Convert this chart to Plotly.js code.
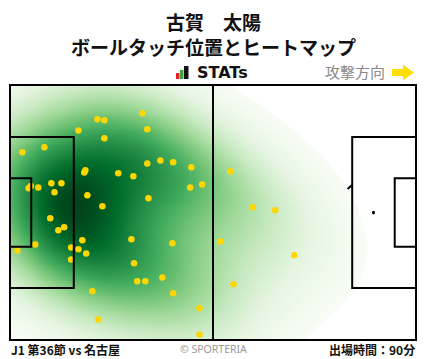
<!DOCTYPE html>
<html>
<head>
<meta charset="utf-8">
<script src="https://cdn.plot.ly/plotly-3.0.1.min.js"></script>
<style>html,body{margin:0;padding:0;background:#fff;}#chart{width:428px;height:359px;}</style>
</head>
<body>
<div id="chart"></div>
<script>
// ---- data (pitch metres: x 0-105 towards attack, y 0-68 bottom to top) ----
const playerName = '古賀　太陽';
const chartTitle = 'ボールタッチ位置とヒートマップ';
const matchLabel = 'J1 第36節 vs 名古屋';
const minutesLabel = '出場時間：90分';
const touchX = [34.2,22.6,24.4,17.7,35.5,24.4,8.9,3.2,35.5,38.9,42.2,46.9,19.5,19.2,28.0,31.9,46.6,49.7,5.4,4.8,7.3,10.7,13.3,11.5,20.0,35.8,23.9,10.4,12.5,14.0,18.7,6.5,1.9,15.8,17.7,19.7,15.8,31.4,42.0,32.1,39.4,32.9,35.0,42.2,21.3,49.0,22.8,49.0,57.0,62.7,68.6,54.4,73.5,57.8];
const touchY = [60.5,58.9,58.6,55.9,56.2,53.8,51.4,50.1,47.1,47.9,47.4,46.1,45.3,44.7,44.5,43.7,40.7,41.5,41.1,40.5,40.7,41.8,41.8,39.4,38.6,37.8,35.7,32.5,29.3,30.1,26.6,25.5,23.9,24.7,24.2,23.1,21.5,26.9,25.8,20.5,16.7,15.7,15.7,12.5,13.0,8.5,5.5,1.5,45.0,35.4,34.6,26.3,22.6,14.9];

// ---- Gaussian KDE computed from the touch points ----
const bwAdjust = 1.4, threshold = 0.02;
const n = touchX.length;
const mx = touchX.reduce((a,b)=>a+b,0)/n, my = touchY.reduce((a,b)=>a+b,0)/n;
let sxx=0, syy=0, sxy=0;
for (let i=0;i<n;i++){const dx=touchX[i]-mx, dy=touchY[i]-my; sxx+=dx*dx; syy+=dy*dy; sxy+=dx*dy;}
sxx/=(n-1); syy/=(n-1); sxy/=(n-1);
const f2 = (Math.pow(n, -1/6)*bwAdjust)**2;
const cxx=sxx*f2, cyy=syy*f2, cxy=sxy*f2;
const det = cxx*cyy-cxy*cxy;
const ixx=cyy/det, iyy=cxx/det, ixy=-cxy/det;
function dens(x,y){let s=0;for(let i=0;i<n;i++){const dx=x-touchX[i],dy=y-touchY[i];s+=Math.exp(-0.5*(ixx*dx*dx+2*ixy*dx*dy+iyy*dy*dy));}return s;}
const bwx=Math.sqrt(cxx), bwy=Math.sqrt(cyy);
const minX=Math.min(...touchX)-3*bwx, maxX=Math.max(...touchX)+3*bwx;
const minY=Math.min(...touchY)-3*bwy, maxY=Math.max(...touchY)+3*bwy;
const vals=[];
for(let i=0;i<200;i++){for(let j=0;j<200;j++){vals.push(dens(minX+(maxX-minX)*i/199, minY+(maxY-minY)*j/199));}}
vals.sort((a,b)=>b-a);
const total=vals.reduce((a,b)=>a+b,0);
let cum=0, level=vals[vals.length-1];
for(let k=0;k<vals.length;k++){cum+=vals[k]; if(cum/total>=1-threshold){level=vals[k];break;}}
const dmax=vals[0];
const step=0.25, gx=[], gy=[], gz=[];
for(let x=0;x<=105+1e-9;x+=step) gx.push(+x.toFixed(3));
for(let y=0;y<=68+1e-9;y+=step) gy.push(+y.toFixed(3));
for(const y of gy){const row=[];for(const x of gx){const d=dens(x,y);row.push(d>=level?d:null);}gz.push(row);}

const greens=[[0,'#f7fcf5'],[0.125,'#e5f5e0'],[0.25,'#c7e9c0'],[0.375,'#a1d99b'],[0.5,'#74c476'],[0.625,'#41ab5d'],[0.75,'#238b45'],[0.875,'#006d2c'],[1,'#00441b']];

// ---- pixel helpers for paper-referenced decorations ----
const L=10,R=416,T=85,B=340;
const px=p=>(p-L)/(R-L), py=p=>(B-p)/(B-T);

const line={color:'#000',width:2};
const shapes=[
  {type:'circle',xref:'x',yref:'y',x0:52.5-9.15,x1:52.5+9.15,y0:34-9.15,y1:34+9.15,line:line,layer:'below'},
  {type:'path',xref:'x',yref:'y',path:(()=>{const a=Math.acos(5.5/9.15);let s='';for(let k=0;k<=20;k++){const t=-a+2*a*k/20;s+=(k?'L':'M')+(11+9.15*Math.cos(t))+','+(34+9.15*Math.sin(t));}return s;})(),line:line,layer:'below'},
  {type:'path',xref:'x',yref:'y',path:(()=>{const a=Math.acos(5.5/9.15);let s='';for(let k=0;k<=20;k++){const t=Math.PI-a+2*a*k/20;s+=(k?'L':'M')+(94+9.15*Math.cos(t))+','+(34+9.15*Math.sin(t));}return s;})(),line:line,layer:'below'},
  {type:'circle',xref:'x',yref:'y',x0:10.8,x1:11.2,y0:33.7,y1:34.3,fillcolor:'#000',line:{width:0},layer:'below'},
  {type:'line',xref:'x',yref:'y',x0:52.5,x1:52.5,y0:0,y1:68,line:line,layer:'above'},
  {type:'rect',xref:'x',yref:'y',x0:0,x1:16.5,y0:13.84,y1:54.16,line:line,layer:'above'},
  {type:'rect',xref:'x',yref:'y',x0:0,x1:5.5,y0:24.84,y1:43.16,line:line,layer:'above'},
  {type:'rect',xref:'x',yref:'y',x0:88.5,x1:105,y0:13.84,y1:54.16,line:line,layer:'above'},
  {type:'rect',xref:'x',yref:'y',x0:99.5,x1:105,y0:24.84,y1:43.16,line:line,layer:'above'},
  {type:'circle',xref:'x',yref:'y',x0:93.6,x1:94.4,y0:33.5,y1:34.5,fillcolor:'#000',line:{width:0},layer:'above'},
  {type:'rect',xref:'paper',yref:'paper',x0:0,x1:1,y0:0,y1:1,line:line,layer:'above'},
  {type:'rect',xref:'paper',yref:'paper',x0:px(176),x1:px(179.5),y0:py(79),y1:py(73),fillcolor:'#e0262b',line:{width:0}},
  {type:'rect',xref:'paper',yref:'paper',x0:px(180),x1:px(183.5),y0:py(79),y1:py(70),fillcolor:'#3aa63a',line:{width:0}},
  {type:'rect',xref:'paper',yref:'paper',x0:px(184),x1:px(188.5),y0:py(79),y1:py(66),fillcolor:'#111',line:{width:0}},
  {type:'path',xref:'paper',yref:'paper',
   path:`M${px(392)},${py(69)} L${px(403)},${py(69)} L${px(403)},${py(64.5)} L${px(414)},${py(72.5)} L${px(403)},${py(80.5)} L${px(403)},${py(76)} L${px(392)},${py(76)} Z`,
   fillcolor:'#ffe000',line:{width:0}}
];

const cjk='"Noto Sans CJK JP", "Noto Sans", sans-serif';
const annotations=[
  {text:'<b>'+playerName+'</b>',xref:'paper',yref:'paper',x:0.5,y:py(21.5),xanchor:'center',yanchor:'middle',showarrow:false,font:{family:cjk,size:19,color:'#111'}},
  {text:'<b>'+chartTitle+'</b>',xref:'paper',yref:'paper',x:0.5,y:py(46.5),xanchor:'center',yanchor:'middle',showarrow:false,font:{family:cjk,size:19,color:'#111'}},
  {text:'<b>STATs</b>',xref:'paper',yref:'paper',x:px(195),y:py(72.5),xanchor:'left',yanchor:'middle',showarrow:false,font:{family:'"DejaVu Sans", sans-serif',size:16,color:'#111'}},
  {text:'攻撃方向',xref:'paper',yref:'paper',x:px(322.5),y:py(72),xanchor:'left',yanchor:'middle',showarrow:false,font:{family:cjk,size:15,color:'#8a8a8a'}},
  {text:'<b>'+matchLabel+'</b>',xref:'paper',yref:'paper',x:px(9),y:py(349.5),xanchor:'left',yanchor:'middle',showarrow:false,font:{family:cjk,size:12,color:'#111'}},
  {text:'© SPORTERIA',xref:'paper',yref:'paper',x:px(213.5),y:py(349),xanchor:'center',yanchor:'middle',showarrow:false,font:{family:'"Noto Sans", sans-serif',size:10.5,color:'#9a9a9a'}},
  {text:'<b>'+minutesLabel+'</b>',xref:'paper',yref:'paper',x:px(417),y:py(349.5),xanchor:'right',yanchor:'middle',showarrow:false,font:{family:cjk,size:12,color:'#111'}}
];

const traces=[
  {type:'heatmap',x:gx,y:gy,z:gz,zmin:level,zmax:dmax,colorscale:greens,showscale:false,zsmooth:false,hoverinfo:'skip'},
  {type:'scatter',mode:'markers',x:touchX,y:touchY,marker:{color:'#ffd700',size:6.5,line:{width:0}},hoverinfo:'skip'}
];

const layout={
  width:428,height:359,margin:{l:L,r:428-R,t:T,b:359-B,pad:0},
  paper_bgcolor:'#fff',plot_bgcolor:'#fff',showlegend:false,
  xaxis:{range:[0,105],visible:false,fixedrange:true},
  yaxis:{range:[0,68],visible:false,fixedrange:true},
  shapes:shapes,annotations:annotations
};
Plotly.newPlot('chart',traces,layout,{staticPlot:true,displayModeBar:false});
</script>
</body>
</html>
